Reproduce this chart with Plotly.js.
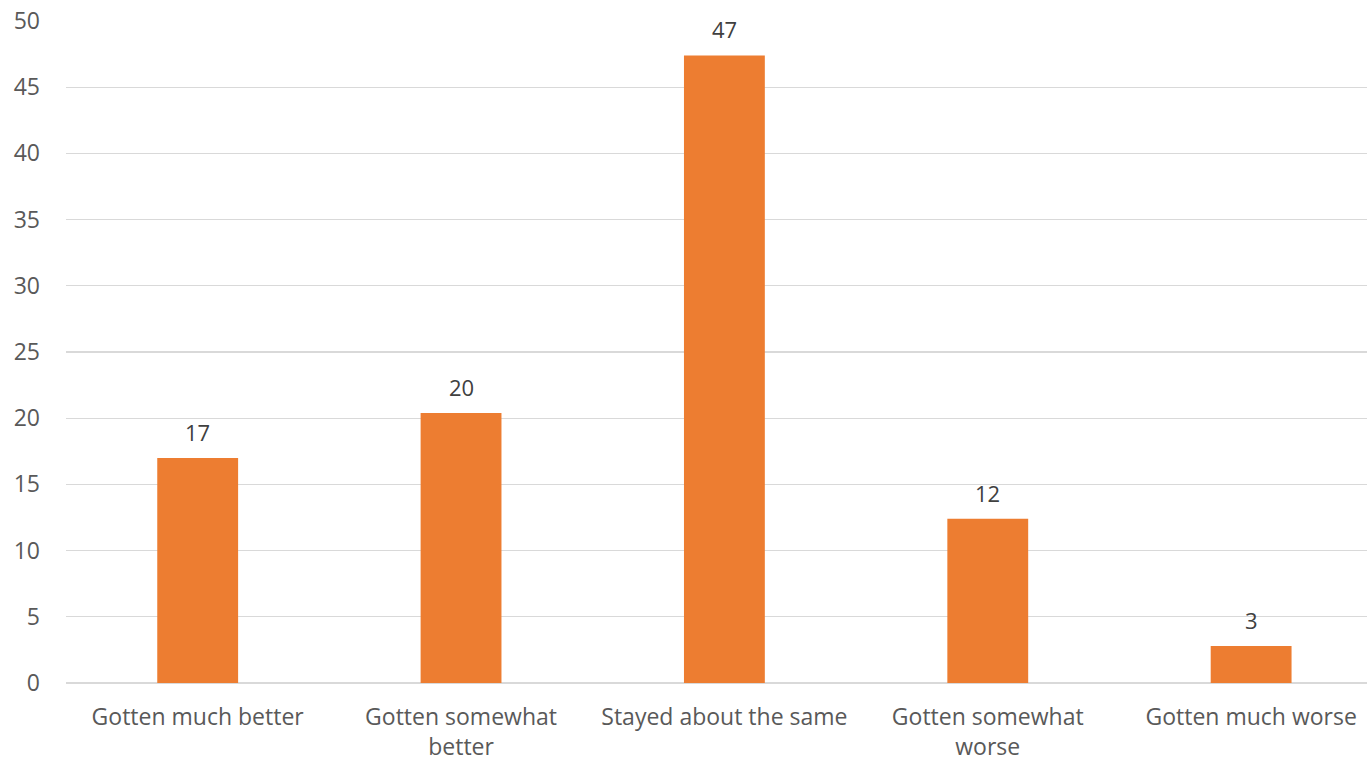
<!DOCTYPE html>
<html>
<head>
<meta charset="utf-8">
<script src="https://cdn.plot.ly/plotly-3.0.1.min.js"></script>
<style>html,body{margin:0;padding:0;background:#fff;}#chart{width:1367px;height:763px;}</style>
</head>
<body>
<div id="chart"></div>
<script>
var categories = ["Gotten much better", "Gotten somewhat<br>better", "Stayed about the same", "Gotten somewhat<br>worse", "Gotten much worse"];
var values = [17.0, 20.4, 47.4, 12.4, 2.8];
var labels = ["17", "20", "47", "12", "3"];
var yTicks = [0, 5, 10, 15, 20, 25, 30, 35, 40, 45, 50];

var font = "Open Sans, Noto Sans, sans-serif";
var annotations = categories.map(function (c, i) {
  return {x: c, y: values[i], text: labels[i], showarrow: false, yanchor: "bottom", yshift: 9,
          font: {family: font, size: 22, color: "#404040"}};
});

Plotly.newPlot("chart", [{
  type: "bar", x: categories, y: values, width: 0.307,
  marker: {color: "#ED7D31"}, hoverinfo: "x+y"
}], {
  width: 1367, height: 763,
  margin: {l: 66, r: 0, t: 21, b: 80},
  paper_bgcolor: "#fff", plot_bgcolor: "#fff",
  showlegend: false,
  xaxis: {type: "category", range: [-0.5, 4.44], showgrid: false, zeroline: false, showline: false,
          ticks: "", ticklabelstandoff: 18, tickfont: {family: font, size: 23, color: "#595959"}},
  yaxis: {range: [0, 50], tickvals: yTicks, showgrid: true, gridcolor: "#d9d9d9", gridwidth: 1.3,
          zeroline: true, zerolinecolor: "#d9d9d9", zerolinewidth: 1.3, showline: false, ticks: "",
          ticklabelstandoff: 25, tickfont: {family: font, size: 23, color: "#595959"}},
  annotations: annotations
}, {displayModeBar: false, staticPlot: true});
</script>
</body>
</html>
